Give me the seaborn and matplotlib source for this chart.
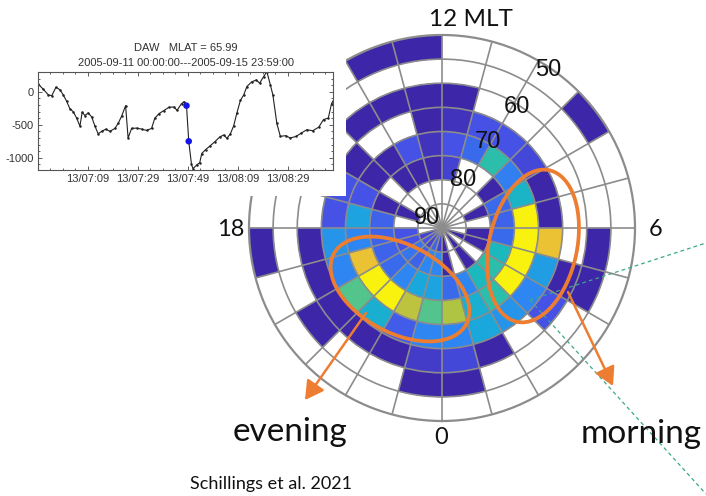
import numpy as np
import matplotlib
matplotlib.use("Agg")
import matplotlib.pyplot as plt
import seaborn as sns
from matplotlib.colors import LinearSegmentedColormap
from matplotlib.patches import Ellipse, Rectangle
from matplotlib.ticker import MultipleLocator

W = np.nan  # empty bin (no data)

# ---------------- polar occurrence map: MLT hour bins x MLAT rings ----------------
mlt_hours = np.arange(24)
ring_top_lat = [90, 85, 80, 75, 70, 65, 60, 55]
ring_85_90 = [0.0, W, 0.0, W, 0.0, W, W, W, W, W, W, W, W, W, W, W, W, W, W, 0.1, 0.15, 0.1, 0.2, 0.1]
ring_80_85 = [0.0, W, 0.0, W, 0.0, 0.0, W, 0.0, W, W, W, W, W, W, W, W, 0.0, W, 0.15, 0.15, 0.25, 0.2, 0.3, 0.3]
ring_75_80 = [0.22, 0.3, 0.5, 0.55, 0.5, 0.22, 0.2, 0.22, 0.0, W, W, 0.1, 0.0, 0.0, 0.0, W, 0.0, 0.2, 0.2, 0.2, 0.22, 0.3, 0.42, 0.4]
ring_70_75 = [0.75, 0.45, 0.55, 1.0, 1.0, 1.0, 1.0, 0.48, 0.28, 0.55, 0.22, 0.15, 0.05, 0.15, 0.0, 0.0, 0.15, 0.4, 0.3, 0.87, 1.0, 1.0, 0.78, 0.62]
ring_65_70 = [0.3, 0.42, 0.35, 0.3, 0.38, 0.87, 0.0, 0.0, 0.12, 0.15, 0.15, 0.05, 0.0, W, W, 0.0, 0.15, 0.15, 0.35, 0.3, 0.62, 0.45, 0.18, 0.3]
ring_60_65 = [0.12, 0.0, W, 0.15, 0.0, W, W, W, W, W, W, 0.0, 0.0, 0.0, 0.0, W, W, W, 0.0, 0.0, 0.0, 0.0, 0.0, 0.08]
ring_55_60 = [0.0, W, W, W, 0.0, 0.0, W, W, W, W, W, W, W, W, W, W, W, W, W, W, 0.0, W, W, 0.0]
ring_50_55 = [W, W, W, W, W, W, W, W, 0.0, W, W, W, 0.0, 0.0, W, W, W, W, 0.0, W, W, W, W, W]
rings = [ring_85_90, ring_80_85, ring_75_80, ring_70_75, ring_65_70, ring_60_65, ring_55_60, ring_50_55]

lat_labels = ["90", "80", "70", "60", "50"]
lat_label_theta_deg = [236.0, 156.4, 151.9, 148.2, 146.1]
lat_label_r = [3.7, 10.9, 20.2, 29.5, 39.4]

# ---------------- inset magnetometer trace ----------------
inset_t = [0.1, 2.1, 4.1, 5.5, 7.2, 8.8, 10.1, 11.5, 12.8, 14.1, 15.5, 16.8, 17.7, 18.8, 20.1,
           21.5, 22.8, 24.1, 25.5, 27.2, 28.8, 30.8, 32.1, 33.5, 35.1, 36.1, 37.5, 39.5, 41.5,
           43.5, 45.5, 46.8, 48.5, 50.4, 52.4, 54.4, 55.7, 57.5, 58.5, 59.5, 60.4, 61.5, 62.1,
           63.7, 64.8, 65.6, 67.2, 69.1, 70.9, 72.8, 74.4, 75.7, 77.1, 78.4, 79.7, 81.1, 82.4,
           83.7, 85.6, 87.5, 88.8, 90.4, 91.7, 93.1, 94.1, 95.7, 97.1, 99.2, 101.1, 103.5,
           105.5, 107.7, 110.1, 112.5, 114.4, 116.3, 117.6, 118.1]
inset_db = [115, 40, -45, -60, 70, 30, -45, -145, -260, -300, -400, -520, -310, -360, -320,
            -380, -520, -635, -600, -565, -600, -555, -480, -370, -210, -700, -555, -550, -565,
            -585, -555, -400, -330, -285, -235, -230, -280, -180, -150, -210, -750, -1100, -1165,
            -1105, -1075, -935, -875, -815, -755, -685, -655, -705, -635, -515, -320, -130, -50,
            80, 150, 180, 130, 230, 305, 105, -45, -480, -675, -665, -700, -675,
            -625, -575, -590, -535, -420, -400, -180, -145]
marked_t = [59.5, 60.4]
marked_db = [-210, -750]
inset_xticks = [20, 40, 60, 80, 100]
inset_xticklabels = ["13/07:09", "13/07:29", "13/07:49", "13/08:09", "13/08:29"]
inset_yticks = [-1000, -500, 0]
inset_title1 = "DAW   MLAT = 65.99"
inset_title2 = "2005-09-11 00:00:00---2005-09-15 23:59:00"

sns.set_style("white")
plt.rcParams["font.family"] = ["Lato", "DejaVu Sans"]

parula = LinearSegmentedColormap.from_list("parula_like", [
    (0.00, "#3e26a8"), (0.15, "#4651e6"), (0.30, "#2d87f2"), (0.42, "#1aa8dc"),
    (0.52, "#1bbcb8"), (0.62, "#52c48c"), (0.75, "#afc443"), (0.87, "#ebc233"),
    (1.00, "#f9f20f")])

FW, FH = 706, 496
fig = plt.figure(figsize=(FW / 100, FH / 100), dpi=100)
fig.patch.set_facecolor("white")

def fx(x):
    return x / FW

def fy(y):
    return 1 - y / FH

# ---------------- polar panel ----------------
cx, cy, R = 442, 228, 193
ax = fig.add_axes([(cx - R) / FW, (FH - cy - R) / FH, 2 * R / FW, 2 * R / FH],
                  projection="polar", zorder=1)
ax.set_theta_zero_location("S")
ax.set_theta_direction(1)
dth = np.deg2rad(15)
theta_c = np.deg2rad(mlt_hours * 15 + 7.5)
for vals, lat_top in zip(rings, ring_top_lat):
    v = np.asarray(vals, float)
    ok = ~np.isnan(v)
    cols = parula(v[ok])
    ax.bar(theta_c[ok], 5, width=dth, bottom=90 - lat_top, color=cols,
           edgecolor=cols, linewidth=0.4, zorder=1)
ax.set_ylim(0, 40)
ax.set_xticks(np.deg2rad(np.arange(0, 360, 15)))
ax.set_xticklabels([])
ax.set_yticks(np.arange(5, 40, 5))
ax.set_yticklabels([])
ax.tick_params(length=0)
ax.grid(True, color="#8c8c8c", lw=1.2)
ax.set_axisbelow(False)
ax.spines["polar"].set_color("#8c8c8c")
ax.spines["polar"].set_linewidth(1.6)
ax.set_facecolor("white")
for lab, th, rr in zip(lat_labels, lat_label_theta_deg, lat_label_r):
    ax.text(np.deg2rad(th), rr, lab, ha="center", va="center", fontsize=17,
            family=["Liberation Sans", "DejaVu Sans"], color="#111111", zorder=6,
            clip_on=False)

# ---------------- overlay (annotations) ----------------
ov = fig.add_axes([0, 0, 1, 1], zorder=2)
ov.set_xlim(0, FW)
ov.set_ylim(FH, 0)
ov.axis("off")
ov.add_patch(Rectangle((0, 36), 346, 160, facecolor="white", edgecolor="none", zorder=1))
dash_col = "#3aa88a"
ov.plot([530, 706], [300, 243], ls=(0, (3, 2.5)), color=dash_col, lw=0.9, zorder=2)
ov.plot([530, 706], [300, 494], ls=(0, (3, 2.5)), color=dash_col, lw=0.9, zorder=2)
orange = "#ED7D31"
ov.add_patch(Ellipse((400, 289), 150, 88, angle=28, fill=False, edgecolor=orange, lw=2.7, zorder=3))
ov.add_patch(Ellipse((533, 246), 155, 88, angle=-78, fill=False, edgecolor=orange, lw=2.7, zorder=3))
ov.annotate("", xy=(305, 400), xytext=(366, 313),
            arrowprops=dict(arrowstyle="-|>,head_length=0.8,head_width=0.45", color=orange,
                            lw=1.8, shrinkA=0, shrinkB=0, mutation_scale=14), zorder=3)
ov.annotate("", xy=(613, 386), xytext=(568, 292),
            arrowprops=dict(arrowstyle="-|>,head_length=0.8,head_width=0.45", color=orange,
                            lw=1.8, shrinkA=0, shrinkB=0, mutation_scale=14), zorder=3)

# ---------------- slide texts ----------------
txt = dict(color="#111111", family=["Lato", "DejaVu Sans"])
fig.text(fx(471), fy(19), "12 MLT", ha="center", va="center", fontsize=17.5, **txt)
fig.text(fx(231), fy(229), "18", ha="center", va="center", fontsize=17, **txt)
fig.text(fx(656), fy(229), "6", ha="center", va="center", fontsize=17, **txt)
fig.text(fx(441), fy(438), "0", ha="center", va="center", fontsize=17, **txt)
fig.text(fx(290), fy(441), "evening", ha="center", va="baseline", fontsize=24, **txt)
fig.text(fx(641), fy(443), "morning", ha="center", va="baseline", fontsize=24, **txt)
fig.text(fx(271), fy(489), "Schillings et al. 2021", ha="center", va="baseline", fontsize=13, **txt)

# ---------------- inset chart ----------------
axi = fig.add_axes([fx(38), fy(170), (333 - 38) / FW, (170 - 72) / FH], zorder=4)
axi.set_facecolor("white")
sns.lineplot(x=inset_t, y=inset_db, ax=axi, color="#222222", lw=0.8, marker="o",
             markersize=1.8, markeredgewidth=0, estimator=None)
sns.scatterplot(x=marked_t, y=marked_db, ax=axi, color="#1414e6", s=22, edgecolor="none", zorder=5)
axi.set_xlim(0, 118.2)
axi.set_ylim(-1185, 300)
axi.set_xticks(inset_xticks)
axi.set_xticklabels(inset_xticklabels)
axi.set_yticks(inset_yticks)
axi.set_yticklabels([str(v) for v in inset_yticks])
axi.xaxis.set_minor_locator(MultipleLocator(5))
axi.yaxis.set_minor_locator(MultipleLocator(100))
axi.tick_params(which="both", direction="in", top=True, right=True, bottom=True, left=True,
                width=0.6, colors="#444444", labelsize=8, pad=3)
axi.tick_params(which="major", length=3)
axi.tick_params(which="minor", length=1.5)
for lab in axi.get_xticklabels() + axi.get_yticklabels():
    lab.set_family(["Liberation Sans", "DejaVu Sans"])
    lab.set_color("#333333")
for s in axi.spines.values():
    s.set_color("#555555")
    s.set_linewidth(0.8)
axi.set_xlabel("")
axi.set_ylabel("")
axi.text(0.5, 1 + 24 / 98, inset_title1, transform=axi.transAxes, ha="center", va="center",
         fontsize=8, color="#333333", family=["Liberation Sans", "DejaVu Sans"])
axi.text(0.5, 1 + 9 / 98, inset_title2, transform=axi.transAxes, ha="center", va="center",
         fontsize=8, color="#333333", family=["Liberation Sans", "DejaVu Sans"])

fig.savefig("out.png", dpi=100, facecolor="white")
